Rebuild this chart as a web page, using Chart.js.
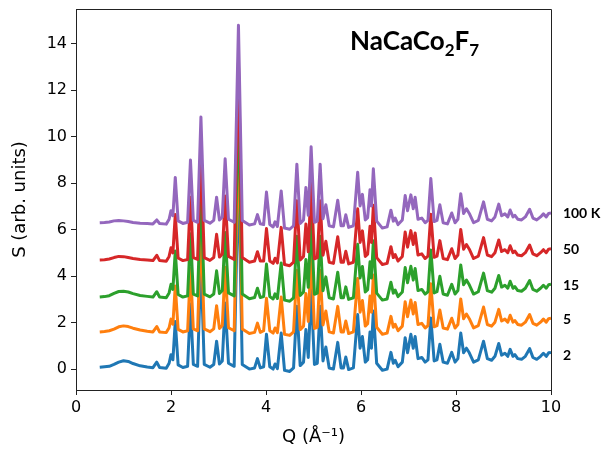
<!DOCTYPE html>
<html>
<head>
<meta charset="utf-8">
<script src="https://cdn.jsdelivr.net/npm/chart.js@4.4.0/dist/chart.umd.min.js"></script>
<style>
  html, body { margin: 0; padding: 0; background: #fff; }
  #wrap { width: 607px; height: 449px; }
</style>
</head>
<body>
<div id="wrap"><canvas id="sqChart" width="607" height="449"></canvas></div>
<script>
// Q grid (1/A), shared by all temperatures
var Q = [
  0.50,0.60,0.70,0.80,0.90,1.00,1.10,1.20,1.35,1.50,
  1.62,1.70,1.76,1.90,1.96,2.00,2.04,2.09,2.15,2.25,
  2.35,2.41,2.47,2.56,2.63,2.70,2.82,2.90,2.96,3.02,
  3.08,3.14,3.21,3.33,3.42,3.50,3.65,3.76,3.82,3.88,
  3.95,4.01,4.08,4.15,4.19,4.24,4.32,4.39,4.50,4.58,
  4.65,4.72,4.79,4.84,4.89,4.95,5.02,5.08,5.14,5.20,
  5.26,5.33,5.42,5.51,5.58,5.63,5.68,5.74,5.84,5.93,
  5.98,6.03,6.09,6.14,6.19,6.22,6.26,6.33,6.45,6.55,
  6.63,6.68,6.72,6.78,6.87,6.93,6.98,7.05,7.10,7.14,
  7.20,7.28,7.35,7.41,7.47,7.54,7.60,7.66,7.73,7.82,
  7.91,7.98,8.04,8.10,8.16,8.22,8.28,8.37,8.47,8.58,
  8.66,8.75,8.82,8.90,8.96,9.03,9.09,9.14,9.20,9.24,
  9.30,9.38,9.46,9.55,9.62,9.70,9.78,9.84,9.90,9.95,
  10.00
];

// S(Q) with vertical offsets
var S2 = [
  0.08,0.10,0.12,0.20,0.30,0.36,0.33,0.24,0.14,0.09,
  0.06,0.30,0.07,0.04,0.25,0.62,0.40,2.05,0.18,0.07,
  0.12,2.80,0.20,0.12,4.65,0.20,0.08,0.20,1.20,0.22,
  0.35,2.85,0.25,0.12,8.60,0.20,0.00,0.05,0.45,0.05,
  0.10,1.50,0.10,0.00,0.22,0.02,1.55,-0.05,-0.10,0.05,
  2.70,0.15,0.30,1.70,0.50,3.45,0.20,0.25,2.70,0.35,
  0.95,0.05,0.00,1.15,0.05,0.05,0.52,-0.02,0.05,2.35,
  0.90,1.40,0.30,0.40,1.60,0.90,2.50,0.25,-0.05,0.00,
  0.72,0.25,0.38,0.10,0.30,1.35,0.70,1.50,0.90,1.40,
  0.45,0.50,0.30,0.40,2.20,0.35,0.40,1.07,0.30,0.25,
  0.72,0.30,0.45,1.55,0.70,0.90,0.70,0.30,0.40,1.20,
  0.45,0.38,0.55,1.10,0.60,0.68,0.55,0.85,0.55,0.62,
  0.45,0.42,0.55,0.88,0.50,0.42,0.55,0.68,0.55,0.70,
  0.72
];
var S5 = [
  1.60,1.62,1.65,1.72,1.82,1.86,1.83,1.76,1.68,1.63,
  1.60,1.83,1.60,1.57,1.78,2.15,1.93,3.58,1.71,1.60,
  1.65,4.33,1.73,1.65,6.18,1.73,1.61,1.73,2.73,1.75,
  1.88,4.38,1.78,1.65,10.13,1.73,1.53,1.58,1.98,1.58,
  1.65,3.05,1.65,1.55,1.77,1.57,3.10,1.50,1.45,1.60,
  4.25,1.70,1.85,3.25,2.05,5.00,1.75,1.80,4.25,1.90,
  2.50,1.60,1.55,2.70,1.60,1.60,2.07,1.53,1.60,3.90,
  2.45,2.95,1.85,1.95,3.15,2.45,4.05,1.80,1.50,1.55,
  2.27,1.80,1.93,1.65,1.85,2.90,2.25,2.97,2.37,2.87,
  1.92,1.97,1.77,1.87,3.67,1.82,1.87,2.54,1.77,1.72,
  2.19,1.77,1.92,3.02,2.17,2.37,2.17,1.77,1.87,2.67,
  1.92,1.85,2.02,2.57,2.07,2.15,2.02,2.32,2.02,2.09,
  1.92,1.89,2.02,2.35,1.97,1.89,2.02,2.15,2.02,2.17,
  2.19
];
var S15 = [
  3.10,3.12,3.16,3.26,3.34,3.35,3.32,3.25,3.17,3.13,
  3.10,3.33,3.10,3.07,3.28,3.65,3.43,5.08,3.21,3.10,
  3.15,5.83,3.23,3.15,7.68,3.23,3.11,3.23,4.23,3.25,
  3.38,5.88,3.28,3.15,11.63,3.23,3.03,3.08,3.48,3.08,
  3.12,4.52,3.12,3.02,3.24,3.04,4.57,2.97,2.92,3.07,
  5.72,3.17,3.32,4.72,3.52,6.47,3.22,3.27,5.72,3.37,
  3.97,3.07,3.02,4.17,3.07,3.07,3.54,3.00,3.07,5.37,
  3.92,4.42,3.32,3.42,4.62,3.92,5.52,3.27,2.97,3.02,
  3.74,3.27,3.40,3.12,3.32,4.37,3.72,4.43,3.83,4.33,
  3.38,3.43,3.23,3.33,5.13,3.28,3.33,4.00,3.23,3.18,
  3.65,3.23,3.38,4.48,3.63,3.83,3.63,3.23,3.33,4.13,
  3.38,3.31,3.48,4.03,3.53,3.61,3.48,3.78,3.48,3.55,
  3.38,3.35,3.48,3.81,3.43,3.35,3.48,3.61,3.48,3.63,
  3.65
];
var S50 = [
  4.70,4.71,4.74,4.80,4.85,4.84,4.80,4.76,4.72,4.70,
  4.67,4.90,4.67,4.64,4.85,5.22,5.00,6.65,4.78,4.67,
  4.72,7.40,4.80,4.72,9.25,4.80,4.68,4.80,5.80,4.82,
  4.95,7.45,4.85,4.72,13.20,4.80,4.60,4.65,5.05,4.65,
  4.65,6.05,4.65,4.55,4.77,4.57,6.10,4.50,4.45,4.60,
  7.25,4.70,4.85,6.25,5.05,8.00,4.75,4.80,7.25,4.90,
  5.50,4.60,4.55,5.70,4.60,4.60,5.07,4.53,4.60,6.90,
  5.45,5.95,4.85,4.95,6.15,5.45,7.05,4.80,4.50,4.55,
  5.27,4.80,4.93,4.65,4.85,5.90,5.25,5.96,5.36,5.86,
  4.91,4.96,4.76,4.86,6.66,4.81,4.86,5.53,4.76,4.71,
  5.18,4.76,4.91,6.01,5.16,5.36,5.16,4.76,4.86,5.66,
  4.91,4.84,5.01,5.56,5.06,5.14,5.01,5.31,5.01,5.08,
  4.91,4.88,5.01,5.34,4.96,4.88,5.01,5.14,5.01,5.16,
  5.18
];
var S100 = [
  6.30,6.31,6.33,6.38,6.40,6.38,6.35,6.31,6.28,6.27,
  6.25,6.42,6.27,6.24,6.45,6.82,6.60,8.25,6.38,6.27,
  6.32,9.00,6.40,6.32,10.85,6.40,6.28,6.40,7.40,6.42,
  6.55,9.05,6.45,6.32,14.80,6.40,6.20,6.25,6.65,6.25,
  6.22,7.62,6.22,6.12,6.34,6.14,7.67,6.07,6.02,6.17,
  8.82,6.27,6.42,7.82,6.62,9.57,6.32,6.37,8.82,6.47,
  7.07,6.17,6.12,7.27,6.17,6.17,6.64,6.10,6.17,8.47,
  7.02,7.52,6.42,6.52,7.72,7.02,8.62,6.37,6.07,6.12,
  6.84,6.37,6.50,6.22,6.42,7.47,6.82,7.50,6.90,7.40,
  6.45,6.50,6.30,6.40,8.20,6.35,6.40,7.07,6.30,6.25,
  6.72,6.30,6.45,7.55,6.70,6.90,6.70,6.30,6.40,7.20,
  6.45,6.38,6.55,7.10,6.60,6.68,6.55,6.85,6.55,6.62,
  6.45,6.42,6.55,6.88,6.50,6.42,6.55,6.68,6.55,6.70,
  6.72
];

var seriesList = [S2, S5, S15, S50, S100];
var seriesNames = ['2', '5', '15', '50', '100 K'];
var seriesColors = ['#1f77b4', '#ff7f0e', '#2ca02c', '#d62728', '#9467bd'];
var labelY = [0.58, 2.15, 3.62, 5.15, 6.7];   // where the temperature labels sit
var labelQ = 10.25;

var xTicks = [0, 2, 4, 6, 8, 10];
var yTicks = [0, 2, 4, 6, 8, 10, 12, 14];

var titleParts = [['NaCaCo', false], ['2', true], ['F', false], ['7', true]];
var titleQ = 5.77, titleS = 13.75;

var axisColor = '#222';

function makeData(ys) {
    return Q.map(function (q, i) {
        return {x: q, y: ys[i]};
    });
}

var datasets = seriesList.map(function (ys, i) {
    return {
        label: seriesNames[i],
        data: makeData(ys),
        borderColor: seriesColors[i],
        backgroundColor: seriesColors[i],
        borderWidth: 3,
        pointRadius: 0,
        tension: 0,
        fill: false,
        borderJoinStyle: 'round',
        order: seriesList.length - i   // last series (100 K) on top
    };
});

/* top / right spines plus the free text (title, temperature labels) */
var extras = {
    id: 'extras',
    afterDraw: function (chart) {
        var ctx = chart.ctx, a = chart.chartArea;
        var xs = chart.scales.x, ys = chart.scales.y;
        ctx.save();
        ctx.strokeStyle = axisColor;
        ctx.lineWidth = 1;
        ctx.beginPath();
        ctx.moveTo(a.left, a.top + 0.5);
        ctx.lineTo(a.right + 0.5, a.top + 0.5);
        ctx.lineTo(a.right + 0.5, a.bottom);
        ctx.stroke();

        ctx.fillStyle = '#000';
        ctx.textBaseline = 'middle';
        ctx.textAlign = 'left';
        ctx.font = 'bold 14px Lato';
        for (var i = 0; i < seriesNames.length; i++) {
            ctx.fillText(seriesNames[i], xs.getPixelForValue(labelQ), ys.getPixelForValue(labelY[i]));
        }

        ctx.textBaseline = 'alphabetic';
        var x = xs.getPixelForValue(titleQ), y = ys.getPixelForValue(titleS);
        titleParts.forEach(function (p) {
            ctx.font = p[1] ? 'bold 17px Lato' : 'bold 26px Lato';
            ctx.fillText(p[0], x, p[1] ? y + 6 : y);
            x += ctx.measureText(p[0]).width;
        });
        ctx.restore();
    }
};

var ctx = document.getElementById('sqChart').getContext('2d');
var sqChart = new Chart(ctx, {
    type: 'line',
    data: {datasets: datasets},
    options: {
        responsive: false,
        animation: false,
        devicePixelRatio: 1,
        layout: {padding: {top: 9, right: 56, left: 0, bottom: 0}},
        plugins: {legend: {display: false}, tooltip: {enabled: false}},
        scales: {
            x: {
                type: 'linear',
                min: 0,
                max: 10,
                afterBuildTicks: function (scale) {
                    scale.ticks = xTicks.map(function (v) { return {value: v}; });
                },
                afterFit: function (scale) {
                    scale.height = 59;
                    scale.paddingLeft = 0;
                    scale.paddingRight = 0;
                },
                ticks: {color: '#000', font: {family: 'DejaVu Sans', size: 16}, padding: 3, maxRotation: 0},
                grid: {drawOnChartArea: false, drawTicks: true, tickLength: 5, color: axisColor},
                border: {display: true, color: axisColor, width: 1},
                title: {
                    display: true,
                    text: 'Q (Å⁻¹)',
                    color: '#000',
                    font: {family: 'DejaVu Sans', size: 18},
                    padding: {top: 0, bottom: 1}
                }
            },
            y: {
                type: 'linear',
                min: -0.9,
                max: 15.5,
                afterBuildTicks: function (scale) {
                    scale.ticks = yTicks.map(function (v) { return {value: v}; });
                },
                afterFit: function (scale) {
                    scale.width = 76;
                    scale.paddingTop = 0;
                    scale.paddingBottom = 0;
                },
                ticks: {color: '#000', font: {family: 'DejaVu Sans', size: 16}, padding: 4},
                grid: {drawOnChartArea: false, drawTicks: true, tickLength: 5, color: axisColor},
                border: {display: true, color: axisColor, width: 1},
                title: {
                    display: true,
                    text: 'S (arb. units)',
                    color: '#000',
                    font: {family: 'DejaVu Sans', size: 18},
                    padding: {top: 10, bottom: 0}
                }
            }
        }
    },
    plugins: [extras]
});
</script>
</body>
</html>
